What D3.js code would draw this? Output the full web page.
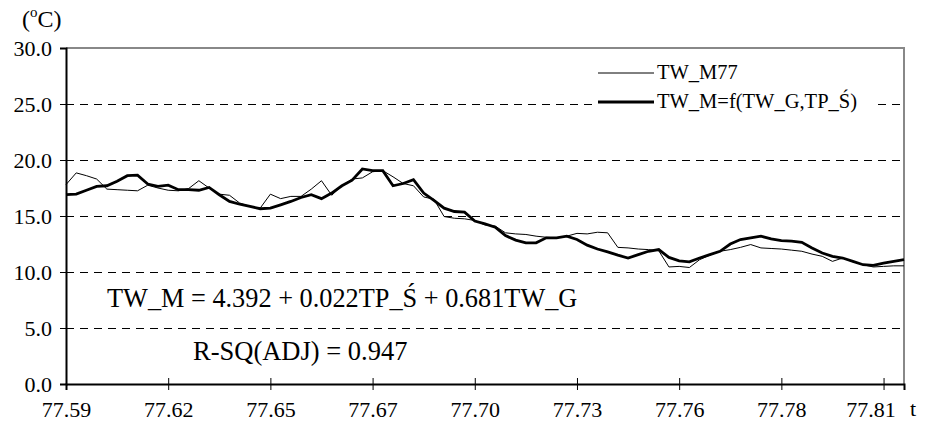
<!DOCTYPE html>
<html>
<head>
<meta charset="utf-8">
<script src="https://cdn.jsdelivr.net/npm/d3@7"></script>
<style>
  body { margin: 0; background: #fff; }
</style>
</head>
<body>
<div id="chart"></div>
<script>
// x tick labels, one every 10 samples
const timeLabels = ['77.59', '77.62', '77.65', '77.67', '77.70', '77.73', '77.76', '77.78', '77.81'];
const labelStep = 10;
const yTicks = [0, 5, 10, 15, 20, 25, 30];
const seriesNames = ['TW_M77', 'TW_M=f(TW_G,TP_Ś)'];

// measured water temperature
const measured = [
  17.8, 18.85, 18.6, 18.3, 17.4, 17.35, 17.3, 17.25, 17.75, 17.5,
  17.3, 17.25, 17.45, 18.15, 17.5, 16.95, 16.85, 16.15, 15.85, 15.7,
  16.95, 16.55, 16.75, 16.75, 17.4, 18.15, 16.85, 17.7, 18.3, 18.4,
  18.95, 19.05, 18.5, 17.9, 17.7, 16.7, 16.5, 14.95, 14.8, 14.75,
  14.6, 14.2, 14.1, 13.5, 13.4, 13.35, 13.2, 13.1, 13.05, 13.2,
  13.45, 13.4, 13.55, 13.5, 12.2, 12.15, 12.05, 12.0, 11.9, 10.45,
  10.5, 10.4, 11.1, 11.5, 11.85, 12.0, 12.2, 12.45, 12.15, 12.1,
  12.05, 11.95, 11.85, 11.6, 11.4, 10.95, 11.25, 10.95, 10.65, 10.45,
  10.5, 10.55, 10.55
];

// regression model output
const modelled = [
  16.9, 16.95, 17.3, 17.65, 17.7, 18.1, 18.6, 18.65, 17.85, 17.65,
  17.75, 17.35, 17.35, 17.3, 17.55, 16.9, 16.3, 16.05, 15.85, 15.65,
  15.7, 16.0, 16.3, 16.65, 16.9, 16.55, 17.05, 17.7, 18.2, 19.2,
  19.05, 19.05, 17.7, 17.9, 18.25, 17.05, 16.4, 15.7, 15.4, 15.35,
  14.55, 14.3, 14.0, 13.25, 12.85, 12.6, 12.6, 13.05, 13.05, 13.2,
  12.9, 12.4, 12.05, 11.8, 11.5, 11.25, 11.55, 11.85, 12.0, 11.3,
  11.0, 10.9, 11.25, 11.55, 11.85, 12.5, 12.9, 13.05, 13.2, 12.95,
  12.8, 12.75, 12.65, 12.15, 11.7, 11.4, 11.25, 10.95, 10.65, 10.6,
  10.8, 10.95, 11.1
];

const font = 'Liberation Serif';
const W = 929, H = 428;
const margin = { top: 48, right: 25, bottom: 44, left: 66 };
const width = W - margin.left - margin.right;
const height = H - margin.top - margin.bottom;

const svg = d3.select('#chart').append('svg')
  .attr('width', W)
  .attr('height', H)
  .attr('font-family', font);

const g = svg.append('g')
  .attr('transform', `translate(${margin.left},${margin.top})`);

const x = d3.scaleLinear()
  .domain([0, measured.length - 1])
  .range([0, width]);

const y = d3.scaleLinear()
  .domain([0, 30])
  .range([height, 0]);

// dashed gridlines
g.selectAll('.grid')
  .data(yTicks.filter(d => d > 0 && d < 30))
  .enter().append('line')
  .attr('x1', 0).attr('x2', width)
  .attr('y1', d => Math.round(y(d)) + 0.5).attr('y2', d => Math.round(y(d)) + 0.5)
  .attr('stroke', '#000')
  .attr('stroke-width', 1)
  .attr('shape-rendering', 'crispEdges')
  .attr('stroke-dasharray', '8,6');

// top and right frame
g.append('path')
  .attr('d', `M0,${y(30)}H${width}V${height}`)
  .attr('fill', 'none')
  .attr('stroke', '#888')
  .attr('stroke-width', 2);

// y axis
const yAxis = g.append('g')
  .call(d3.axisLeft(y).tickValues(yTicks).tickFormat(d3.format('.1f')).tickSize(6).tickPadding(8));
yAxis.attr('font-family', font).attr('font-size', 22);
yAxis.select('.domain').attr('stroke', '#000').attr('stroke-width', 2);
yAxis.selectAll('.tick line').attr('stroke', '#000');

// x axis
const xAxis = g.append('g')
  .attr('transform', `translate(0,${height})`)
  .call(d3.axisBottom(x)
    .tickValues(timeLabels.map((d, i) => i * labelStep))
    .tickFormat((d, i) => timeLabels[i])
    .tickSize(6).tickPadding(11));
xAxis.attr('font-family', font).attr('font-size', 22);
xAxis.select('.domain').attr('stroke', '#000').attr('stroke-width', 2);
xAxis.selectAll('.tick line').attr('stroke', '#000').attr('y1', -6);
// last label is pushed left to make room for the axis name
xAxis.selectAll('.tick text').filter((d, i) => i === timeLabels.length - 1).attr('dx', -13);

g.append('text')
  .attr('x', width + 6)
  .attr('y', height + 32)
  .attr('font-size', 22)
  .text('t');

// unit label
const unit = svg.append('text')
  .attr('x', 22)
  .attr('y', 27)
  .attr('font-size', 24);
unit.append('tspan').text('(');
unit.append('tspan').attr('dy', -10).attr('font-size', 15).text('o');
unit.append('tspan').attr('dy', 10).text('C)');

// lines
const line = d3.line()
  .x((d, i) => x(i))
  .y(d => y(d));

g.append('path')
  .datum(measured)
  .attr('fill', 'none')
  .attr('stroke', '#000')
  .attr('stroke-width', 1)
  .attr('d', line);

g.append('path')
  .datum(modelled)
  .attr('fill', 'none')
  .attr('stroke', '#000')
  .attr('stroke-width', 2.8)
  .attr('d', line);

// legend
const legend = svg.append('g').attr('transform', 'translate(596,58)');
legend.append('rect')
  .attr('width', 282).attr('height', 60)
  .attr('fill', '#fff');
seriesNames.forEach((name, i) => {
  const row = legend.append('g').attr('transform', `translate(0,${15 + i * 29})`);
  row.append('line')
    .attr('x1', 2).attr('x2', 58)
    .attr('stroke', '#000')
    .attr('stroke-width', i === 0 ? 1 : 2.8);
  row.append('text')
    .attr('x', 61).attr('y', 6)
    .attr('font-size', 20.5)
    .text(name);
});

// regression annotations
svg.append('text')
  .attr('x', 107).attr('y', 307)
  .attr('font-size', 26.3)
  .text('TW_M = 4.392 + 0.022TP_Ś + 0.681TW_G');

svg.append('text')
  .attr('x', 193).attr('y', 360)
  .attr('font-size', 26.5)
  .text('R-SQ(ADJ) = 0.947');
</script>
</body>
</html>
